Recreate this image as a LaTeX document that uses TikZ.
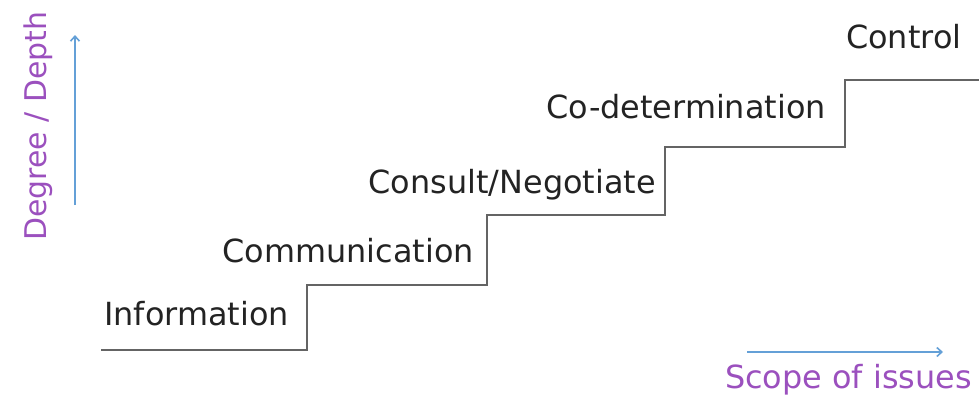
\documentclass[tikz,border=0pt]{standalone}
\usepackage{fontspec}
\setmainfont{DejaVu Sans}
\usetikzlibrary{arrows.meta}
\definecolor{textgray}{RGB}{35,35,35}
\definecolor{stairgray}{RGB}{100,100,100}
\definecolor{axpurple}{RGB}{155,80,190}
\definecolor{axblue}{RGB}{100,160,215}
\begin{document}
\begin{tikzpicture}[x=1bp,y=-1bp,
  steplabel/.style={font=\fontsize{32}{38}\selectfont, text=textgray, inner sep=0pt},
  axislabel/.style={font=\fontsize{30}{36}\selectfont, text=axpurple, inner sep=0pt},
  axisarrow/.style={draw=axblue, line width=1.6bp, -{Straight Barb[length=5bp,width=9bp]}},
  stair/.style={draw=stairgray, line width=2.8bp}]
\useasboundingbox (0,0) rectangle (979,401);

% staircase
\draw[stair] (101,350) -- (307,350) -- (307,285) -- (487,285) -- (487,215)
  -- (665,215) -- (665,147) -- (845,147) -- (845,80) -- (979,80);

% step labels
\node[steplabel, anchor=base east] (info)  at (289,325) {Information};
\node[steplabel, anchor=base east] (comm)  at (474,262) {Communication};
\node[steplabel, anchor=base east] (cons)  at (656,193) {Consult/Negotiate};
\node[steplabel, anchor=base east] (codet) at (826,118) {Co-determination};
\node[steplabel, anchor=base west] (ctrl)  at (846,48)  {Control};

% axes
\node[axislabel, rotate=90, anchor=base west] (depth) at (46,241) {Degree / Depth};
\node[font=\fontsize{32}{38}\selectfont, text=axpurple, inner sep=0pt, anchor=base west] (scope) at (725,388) {Scope of issues};

\coordinate (vstart) at (75,205);
\coordinate (vend)   at (75,35);
\draw[axisarrow] (vstart) -- (vend);
\coordinate (hstart) at (747,352);
\coordinate (hend)   at (943,352);
\draw[axisarrow] (hstart) -- (hend);
\end{tikzpicture}
\end{document}
